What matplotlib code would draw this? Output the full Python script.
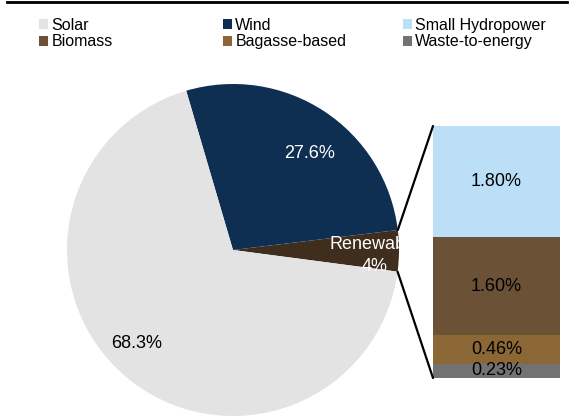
import numpy as np
import matplotlib
matplotlib.use("Agg")
import matplotlib.pyplot as plt
from matplotlib.patches import ConnectionPatch, Patch
from matplotlib.lines import Line2D

plt.rcParams["font.family"] = ["Liberation Sans", "DejaVu Sans"]

# Pie: share of installed renewable capacity
pie_labels = ["Renewable", "Wind", "Solar"]
pie_values = [4.0, 27.6, 68.3]
pie_colors = ["#3f2d1d", "#0e2e52", "#e3e3e3"]
pie_text_colors = ["white", "white", "black"]

# Breakdown of the "Renewable" slice
bar_labels = ["Waste-to-energy", "Bagasse-based", "Biomass", "Small Hydropower"]
bar_values = [0.23, 0.46, 1.60, 1.80]
bar_colors = ["#727272", "#8b6735", "#6b5135", "#bcdff8"]

W, H = 574, 416
fig = plt.figure(figsize=(W / 100, H / 100), dpi=100)

def px_box(x0, y0, x1, y1):
    return [x0 / W, 1 - y1 / H, (x1 - x0) / W, (y1 - y0) / H]

# ---- pie ----
ax = fig.add_axes(px_box(67, 84, 399, 416))
wedges, _ = ax.pie(pie_values, colors=pie_colors, startangle=-7.5,
                   counterclock=True, radius=1.0,
                   wedgeprops=dict(linewidth=0))
ax.set_xlim(-1, 1)
ax.set_ylim(-1, 1)
ax.set_aspect("auto")
ax.axis("off")
for w in wedges:
    w.set_clip_on(False)

# label placement: radius and angular shift from each wedge's mid-angle
label_r = [0.855, 0.745, 0.805]
label_shift = [-1.9, -5.1, -5.3]
pie_texts = ["Renewable\n4%", f"{pie_values[1]:.1f}%", f"{pie_values[2]:.1f}%"]
for w, txt, r, d, c in zip(wedges, pie_texts, label_r, label_shift, pie_text_colors):
    mid = np.deg2rad((w.theta1 + w.theta2) / 2 + d)
    t = ax.text(r * np.cos(mid), r * np.sin(mid), txt, ha="center", va="center",
                color=c, fontsize=13, linespacing=1.35)
    t.set_clip_path(w)

# ---- stacked bar ----
ax2 = fig.add_axes(px_box(433, 126, 560, 378))
bottom = 0.0
for v, c in zip(bar_values, bar_colors):
    ax2.bar(0, v, bottom=bottom, width=1.0, color=c, linewidth=0)
    ax2.text(0, bottom + v / 2, f"{v:.2f}%", ha="center", va="center",
             fontsize=13, color="black", clip_on=True)
    bottom += v
ax2.set_xlim(-0.5, 0.5)
ax2.set_ylim(0, sum(bar_values))
ax2.axis("off")

# ---- connector lines between the slice and the bar ----
ren = wedges[0]
for ang, yb in [(ren.theta2, sum(bar_values)), (ren.theta1, 0.0)]:
    a = np.deg2rad(ang)
    con = ConnectionPatch(xyA=(np.cos(a), np.sin(a)), coordsA=ax.transData,
                          xyB=(-0.5, yb), coordsB=ax2.transData,
                          color="black", linewidth=1.6)
    fig.add_artist(con)

# ---- top rule ----
fig.add_artist(Line2D([7 / W, 567 / W], [1 - 2 / H, 1 - 2 / H],
                      transform=fig.transFigure, color="black", linewidth=2))

# ---- legend, three columns ----
legend_cols = [
    (["Solar", "Biomass"], [pie_colors[2], bar_colors[2]], 39),
    (["Wind", "Bagasse-based"], [pie_colors[1], bar_colors[1]], 223),
    (["Small Hydropower", "Waste-to-energy"], [bar_colors[3], bar_colors[0]], 403),
]
for names, cols, x in legend_cols:
    handles = [Patch(facecolor=c, edgecolor="none") for c in cols]
    fig.legend(handles, names, loc="upper left",
               bbox_to_anchor=(x / W, 1 - 18 / H), frameon=False,
               fontsize=11.5, handlelength=0.57, handleheight=0.57,
               handletextpad=0.2, labelspacing=0.08, borderpad=0,
               borderaxespad=0)

fig.savefig("out.png", dpi=100)
